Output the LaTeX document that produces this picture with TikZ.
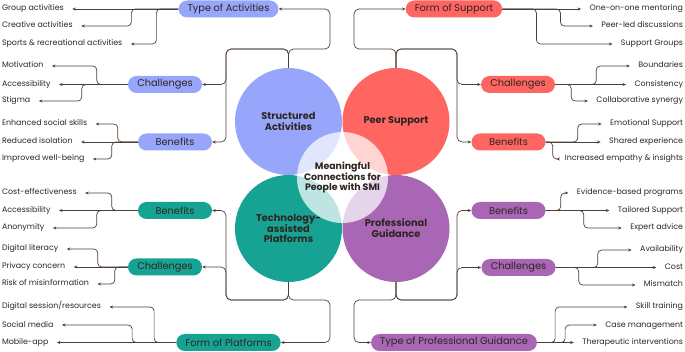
\documentclass[tikz,border=0pt]{standalone}
\usepackage{fontspec}
\setmainfont{Poppins}
\usepackage{tikz}
\usetikzlibrary{arrows.meta}

\definecolor{saBlue}{HTML}{97A6FA}
\definecolor{psRed}{HTML}{FF6662}
\definecolor{tapTeal}{HTML}{17A394}
\definecolor{pgPurple}{HTML}{A866B5}
\definecolor{ink}{HTML}{2E2520}
\definecolor{wire}{HTML}{4F3F36}

\begin{document}
\begin{tikzpicture}[
    x=1pt, y=-1pt,
    hub/.style={
        circle, minimum size=107pt, inner sep=0pt, outer sep=0pt,
        align=center, text=ink, font=\fontsize{9.8}{10.8}\selectfont\bfseries
    },
    core/.style={
        circle, minimum size=91pt, inner sep=0pt, outer sep=0pt,
        fill=white, fill opacity=0.72, text opacity=1,
        align=center, text=ink, font=\fontsize{9.4}{10}\selectfont\bfseries
    },
    tag/.style={
        rounded corners=8.5pt, minimum height=17pt, minimum width=74pt,
        inner xsep=9pt, text=ink, font=\fontsize{9.8}{11}\selectfont
    },
    leaf/.style={
        inner sep=0.5pt, outer xsep=8pt, text height=5.5pt, text depth=1.5pt,
        text=ink, font=\fontsize{7.9}{9}\selectfont
    },
    leafL/.style={leaf, anchor=west},
    leafR/.style={leaf, anchor=east},
    link/.style={draw=wire, line width=0.7pt, rounded corners=5pt,
        -{Stealth[length=3.5pt, width=3pt]}},
    leaflink/.style={link, rounded corners=4pt}
]
    \useasboundingbox (0,0) rectangle (685,352);

    % Four themes round the centre
    \node[hub, fill=saBlue]   (sa)  at (288.5,121.5) {Structured\\Activities};
    \node[hub, fill=psRed]    (ps)  at (396,121.5)   {Peer Support};
    \node[hub, fill=tapTeal]  (tap) at (288.5,228.5) {Technology-\\assisted\\Platforms};
    \node[hub, fill=pgPurple] (pg)  at (396,228.5)   {Professional\\Guidance};
    \node[core] (core) at (342.5,177.5)
        {Meaningful\\Connections for\\People with SMI};

    % Category tags
    \node[tag, fill=saBlue] (saType) at (228.5,9)     {Type of Activities};
    \node[tag, fill=saBlue] (saChal) at (165,84.5)    {Challenges};
    \node[tag, fill=saBlue] (saBen)  at (175,142)     {Benefits};

    \node[tag, fill=psRed] (psForm) at (454,9)        {Form of Support};
    \node[tag, fill=psRed] (psChal) at (518,84.5)     {Challenges};
    \node[tag, fill=psRed] (psBen)  at (508.5,142)    {Benefits};

    \node[tag, fill=tapTeal] (tapBen)  at (175,210.5)   {Benefits};
    \node[tag, fill=tapTeal] (tapChal) at (165,267)     {Challenges};
    \node[tag, fill=tapTeal] (tapForm) at (228.5,342.5) {Form of Platforms};

    \node[tag, fill=pgPurple] (pgBen)  at (508.5,210.5) {Benefits};
    \node[tag, fill=pgPurple] (pgChal) at (518.5,267.5) {Challenges};
    \node[tag, fill=pgPurple] (pgType) at (454,342.5)   {Type of Professional Guidance};

    % Theme -> tag connectors
    \coordinate (saL)  at (226,49);
    \coordinate (saR)  at (330,49);
    \coordinate (psL)  at (354,49);
    \coordinate (psR)  at (457,49);
    \coordinate (tapL) at (226,300);
    \coordinate (tapR) at (330,300);
    \coordinate (pgL)  at (354,300);
    \coordinate (pgR)  at (457,300);

    \draw[link] (sa.north) |- (saR) |- (saType.east);
    \draw[link] (sa.north) |- (saL) |- (saChal.east);
    \draw[link] (sa.north) |- (saL) |- (saBen.east);

    \draw[link] (ps.north) |- (psL) |- (psForm.west);
    \draw[link] (ps.north) |- (psR) |- (psChal.west);
    \draw[link] (ps.north) |- (psR) |- (psBen.west);

    \draw[link] (tap.south) |- (tapL) |- (tapBen.east);
    \draw[link] (tap.south) |- (tapL) |- (tapChal.east);
    \draw[link] (tap.south) |- (tapR) |- (tapForm.east);

    \draw[link] (pg.south) |- (pgR) |- (pgBen.west);
    \draw[link] (pg.south) |- (pgR) |- (pgChal.west);
    \draw[link] (pg.south) |- (pgL) |- (pgType.west);

    % Left side: Structured Activities
    \node[leafL] (grp)  at (-6.5,9)  {Group activities};
    \node[leafL] (crt)  at (-6.5,26) {Creative activities};
    \node[leafL] (spr)  at (-6.5,44) {Sports \& recreational activities};
    \draw[leaflink] (saType.west) -- (grp.east);
    \draw[leaflink] (saType.west) -- ++(-47,0) |- (crt.east);
    \draw[leaflink] (saType.west) -- ++(-22,0) |- (spr.east);

    \node[leafL] (mot)  at (-6.5,66)   {Motivation};
    \node[leafL] (acc)  at (-6.5,84.5) {Accessibility};
    \node[leafL] (stg)  at (-6.5,101)  {Stigma};
    \draw[leaflink] (saChal.west) -- ++(-31,0) |- (mot.east);
    \draw[leaflink] (saChal.west) -- (acc.east);
    \draw[leaflink] (saChal.west) -- ++(-46,0) |- (stg.east);

    \node[leafL] (ess)  at (-6.5,124) {Enhanced social skills};
    \node[leafL] (red)  at (-6.5,142) {Reduced isolation};
    \node[leafL] (iwb)  at (-6.5,159) {Improved well-being};
    \draw[leaflink] (saBen.west) -- ++(-20,0) |- (ess.east);
    \draw[leaflink] (saBen.west) -- (red.east);
    \draw[leaflink] (saBen.west) -- ++(-26,0) |- (iwb.east);

    % Left side: Technology-assisted Platforms
    \node[leafL] (cst)  at (-6.5,193)   {Cost-effectiveness};
    \node[leafL] (tacc) at (-6.5,210.5) {Accessibility};
    \node[leafL] (ano)  at (-6.5,228)   {Anonymity};
    \draw[leaflink] (tapBen.west) -- ++(-26,0) |- (cst.east);
    \draw[leaflink] (tapBen.west) -- (tacc.east);
    \draw[leaflink] (tapBen.west) -- ++(-41,0) |- (ano.east);

    \node[leafL] (dlt)  at (-6.5,249) {Digital literacy};
    \node[leafL] (prv)  at (-6.5,267) {Privacy concern};
    \node[leafL] (rsk)  at (-6.5,284) {Risk of misinformation};
    \draw[leaflink] (tapChal.west) -- ++(-30,0) |- (dlt.east);
    \draw[leaflink] (tapChal.west) -- (prv.east);
    \draw[leaflink] (tapChal.west) -- ++(-13,0) |- (rsk.east);

    \node[leafL] (dsr)  at (-6.5,307)   {Digital session/resources};
    \node[leafL] (soc)  at (-6.5,325)   {Social media};
    \node[leafL] (mob)  at (-6.5,342.5) {Mobile-app};
    \draw[leaflink] (tapForm.west) -- ++(-22,0) |- (dsr.east);
    \draw[leaflink] (tapForm.west) -- ++(-44,0) |- (soc.east);
    \draw[leaflink] (tapForm.west) -- (mob.east);

    % Right side: Peer Support
    \node[leafR] (one)  at (691.5,9)  {One-on-one mentoring};
    \node[leafR] (pld)  at (691.5,26) {Peer-led discussions};
    \node[leafR] (sgp)  at (691.5,44) {Support Groups};
    \draw[leaflink] (psForm.east) -- (one.west);
    \draw[leaflink] (psForm.east) -- ++(58,0) |- (pld.west);
    \draw[leaflink] (psForm.east) -- ++(34,0) |- (sgp.west);

    \node[leafR] (bnd)  at (691.5,66)   {Boundaries};
    \node[leafR] (cns)  at (691.5,84.5) {Consistency};
    \node[leafR] (col)  at (691.5,101)  {Collaborative synergy};
    \draw[leaflink] (psChal.east) -- ++(41,0) |- (bnd.west);
    \draw[leaflink] (psChal.east) -- (cns.west);
    \draw[leaflink] (psChal.east) -- ++(16,0) |- (col.west);

    \node[leafR] (emo)  at (691.5,124) {Emotional Support};
    \node[leafR] (shx)  at (691.5,142) {Shared experience};
    \node[leafR] (emp)  at (691.5,159) {Increased empathy \& insights};
    \draw[leaflink] (psBen.east) -- ++(32,0) |- (emo.west);
    \draw[leaflink] (psBen.east) -- (shx.west);
    \draw[leaflink] (psBen.east) -- ++(7,0) |- (emp.west);

    % Right side: Professional Guidance
    \node[leafR] (ebp)  at (691.5,193)   {Evidence-based programs};
    \node[leafR] (tls)  at (691.5,210.5) {Tailored Support};
    \node[leafR] (exa)  at (691.5,228)   {Expert advice};
    \draw[leaflink] (pgBen.east) -- ++(15,0) |- (ebp.west);
    \draw[leaflink] (pgBen.east) -- (tls.west);
    \draw[leaflink] (pgBen.east) -- ++(38,0) |- (exa.west);

    \node[leafR] (avl)  at (691.5,250)   {Availability};
    \node[leafR] (cos)  at (691.5,267.5) {Cost};
    \node[leafR] (mis)  at (691.5,285)   {Mismatch};
    \draw[leaflink] (pgChal.east) -- ++(42,0) |- (avl.west);
    \draw[leaflink] (pgChal.east) -- (cos.west);
    \draw[leaflink] (pgChal.east) -- ++(23,0) |- (mis.west);

    \node[leafR] (skl)  at (691.5,307)   {Skill training};
    \node[leafR] (cmg)  at (691.5,325)   {Case management};
    \node[leafR] (thr)  at (691.5,342.5) {Therapeutic interventions};
    \draw[leaflink] (pgType.east) -- ++(18,0) |- (skl.west);
    \draw[leaflink] (pgType.east) -- ++(28,0) |- (cmg.west);
    \draw[leaflink] (pgType.east) -- (thr.west);
\end{tikzpicture}
\end{document}
